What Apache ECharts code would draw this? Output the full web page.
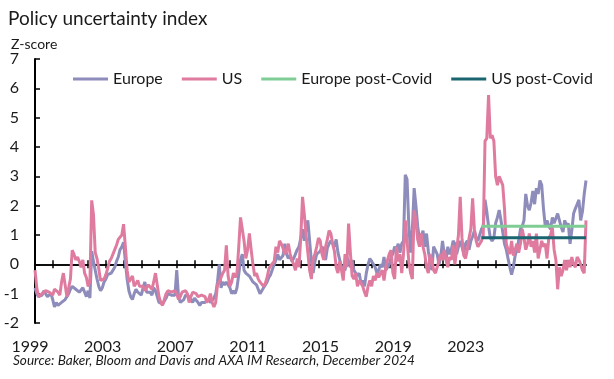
<!DOCTYPE html>
<html>
<head>
<meta charset="utf-8">
<script src="https://cdn.jsdelivr.net/npm/echarts@6/dist/echarts.min.js"></script>
<style>
html,body{margin:0;padding:0;background:#fff;}
#chart{width:614px;height:379px;}
</style>
</head>
<body>
<div id="chart"></div>
<script>
// Monthly categories Jan 1999 - Dec 2024
const startYear = 1999, endYear = 2024;
const months = [];
for (let y = startYear; y <= endYear; y++) {
  for (let m = 1; m <= 12; m++) months.push(y + '-' + (m < 10 ? '0' + m : m));
}
// x-axis tick labels (as printed on the original chart)
const tickLabels = ['1999', '2003', '2007', '2011', '2015', '2019', '2023'];
const labelEvery = 41;

const europe = [
  -0.8,-1.0,-1.1,-1.15,-1.05,-0.9,-1.0,-1.1,-1.05,-1.0,-1.2,-1.45,
  -1.3,-1.4,-1.35,-1.3,-1.25,-1.2,-1.1,-1.0,-0.85,-0.75,-0.8,-0.85,
  -0.85,-0.95,-1.0,-0.8,-0.85,-1.1,-0.9,-1.15,0.45,0.1,-0.2,-0.5,
  -0.75,-0.9,-0.8,-0.6,-0.5,-0.35,-0.4,-0.3,-0.2,-0.1,0.1,0.25,
  0.5,0.6,0.75,0.1,-0.5,-0.9,-1.1,-1.2,-1.0,-0.85,-0.95,-1.0,
  -1.05,-0.8,-0.6,-0.95,-0.9,-0.95,-1.05,-0.8,-0.9,-1.1,-1.3,-1.35,
  -1.35,-1.3,-1.15,-1.0,-0.95,-1.05,-1.0,-1.05,-0.2,-1.1,-1.3,-1.35,
  -1.2,-1.05,-1.0,-1.1,-1.15,-1.3,-1.15,-1.2,-1.3,-1.4,-1.3,-1.3,
  -1.3,-1.25,-1.2,-1.3,-1.25,-1.15,-1.0,-0.6,0.0,-0.8,-0.6,-0.7,
  -0.6,-0.55,-0.8,-1.0,-0.9,-1.0,-0.8,-0.35,0.15,0.35,-0.2,-0.3,
  -0.3,-0.4,-0.5,-0.6,-0.6,-0.7,-0.85,-1.0,-0.95,-0.8,-0.7,-0.6,
  -0.45,-0.35,-0.3,0.0,0.15,0.35,0.15,0.1,0.3,0.7,0.35,0.2,
  0.3,0.1,0.2,0.35,0.5,0.6,0.9,1.2,0.8,1.2,1.5,0.8,
  0.1,-0.3,0.1,0.35,0.3,0.45,0.6,0.5,0.15,0.55,0.7,0.8,
  0.7,0.6,0.85,0.4,0.15,-0.1,-0.1,-0.2,0.25,0.1,-0.1,0.15,
  -0.2,-0.3,-0.4,-0.3,-0.65,-0.55,-0.75,-0.3,0.0,0.2,0.15,0.0,
  -0.1,-0.3,-0.2,0.0,-0.1,0.25,-0.2,-0.1,0.0,0.25,0.36,0.6,
  0.5,0.7,0.4,0.7,0.8,3.05,2.9,1.3,0.4,1.2,2.6,2.0,
  1.3,0.85,0.95,1.15,0.6,1.05,0.45,0.1,-0.2,0.6,0.65,0.35,
  0.0,0.25,0.8,0.35,0.15,0.6,0.35,0.5,0.8,0.7,0.35,0.6,
  0.8,0.6,0.35,0.7,0.8,0.5,0.8,0.95,1.15,0.9,0.8,1.0,
  1.2,1.3,2.2,1.8,1.3,0.9,0.8,0.9,1.4,1.6,1.85,1.5,
  1.1,0.7,0.5,0.2,-0.1,-0.35,-0.1,0.3,0.5,0.8,1.2,1.3,
  1.5,2.4,2.0,1.85,2.1,2.5,2.05,2.6,2.4,2.86,2.7,1.9,
  1.3,1.5,1.3,1.2,1.6,1.4,1.4,1.73,1.5,1.27,1.1,1.5,
  1.3,1.4,0.7,1.16,1.73,1.9,2.05,2.2,1.5,1.8,2.4,2.86
];
const us = [
  -0.2,-0.8,-1.1,-1.05,-1.0,-1.05,-0.9,-0.85,-0.95,-1.0,-1.05,-0.85,
  -0.8,-0.95,-1.05,-0.6,-0.3,-0.7,-1.1,-1.15,-0.5,0.48,0.35,0.15,
  0.25,0.1,-0.1,0.15,-0.3,-0.45,-0.75,-0.6,2.18,1.7,0.4,0.2,
  -0.15,-0.55,-0.5,-0.5,-0.35,-0.15,0.1,0.2,0.35,0.5,0.65,0.85,
  0.9,1.0,1.37,0.6,-0.2,-0.6,-0.55,-0.4,-0.75,-0.7,-0.55,-0.75,
  -0.8,-0.75,-0.9,-0.8,-0.7,-0.75,-0.85,-0.6,-0.3,-0.7,-1.1,-1.3,
  -1.4,-1.2,-1.0,-0.9,-0.85,-0.95,-0.9,-0.9,-1.0,-1.2,-1.1,-0.95,
  -0.95,-0.9,-1.0,-1.3,-1.1,-0.95,-0.9,-1.0,-1.1,-1.15,-1.05,-1.1,
  -1.1,-1.3,-1.2,-1.0,-1.3,-1.45,-1.3,-0.7,-0.6,-0.45,-0.3,-0.2,
  0.65,-0.4,-0.75,-0.6,-0.3,-0.45,-0.3,0.6,1.6,1.55,0.8,0.2,
  0.5,1.05,0.5,0.0,-0.4,-0.3,-0.5,-0.6,-0.55,-0.75,-0.65,-0.45,
  -0.15,-0.05,0.0,0.1,0.6,0.4,0.8,0.7,0.55,0.35,0.5,0.7,
  0.35,0.15,0.0,-0.2,0.2,-0.1,0.9,2.3,1.7,1.0,0.4,-0.2,
  -0.5,0.2,0.35,0.6,0.9,0.8,0.35,0.15,0.6,0.85,1.15,1.05,
  0.7,0.45,-0.1,-0.3,0.1,-0.2,-0.55,0.35,-0.1,1.39,0.4,-0.4,
  -0.5,-0.3,-0.75,-0.55,-0.65,-0.75,-0.95,-1.1,-0.75,-0.55,-0.75,-0.4,
  -0.55,-0.3,-0.45,-0.3,-0.2,-0.55,-0.1,0.15,0.36,0.48,-0.3,-0.5,
  0.6,0.1,0.35,-0.3,0.36,1.5,0.8,0.1,-0.3,-0.5,1.84,1.5,
  0.85,0.6,1.05,0.6,0.35,-0.1,-0.3,0.35,0.15,-0.2,-0.3,-0.1,
  -0.1,0.35,0.15,0.5,0.15,-0.1,0.25,0.15,0.65,0.0,0.5,1.0,
  2.3,0.9,0.3,0.2,0.5,0.9,1.2,2.25,1.2,0.8,0.6,0.6,
  0.8,1.0,4.2,4.3,5.77,4.3,4.4,4.2,3.0,2.7,3.0,3.0,
  2.7,1.9,0.7,0.5,0.35,0.8,0.3,0.5,0.7,0.4,0.7,1.2,
  0.9,0.5,0.7,1.05,0.6,0.8,0.4,1.05,0.2,0.5,0.8,0.6,
  0.7,0.2,0.9,1.0,1.27,0.5,0.15,-0.85,-0.1,-0.4,-0.2,0.15,
  -0.2,0.15,-0.1,0.25,0.0,-0.1,0.25,0.15,0.0,-0.2,-0.3,1.5
];
// Post-Covid averages (from Jan 2020)
const postCovidStart = '2020-01';
const europePostCovid = 1.3;
const usPostCovid = 0.91;

const startIdx = months.indexOf(postCovidStart);
const euPC = months.map((_, i) => i >= startIdx ? europePostCovid : null);
const usPC = months.map((_, i) => i >= startIdx ? usPostCovid : null);

const FONT = 'Lato';
const TXT = '#1a1a1a';
const chart = echarts.init(document.getElementById('chart'), null, {renderer: 'canvas'});
chart.setOption({
  animation: false,
  backgroundColor: '#fff',
  textStyle: {fontFamily: FONT},
  title: [
    {text: 'Policy uncertainty index', left: 3, top: 4,
     textStyle: {fontFamily: FONT, fontSize: 19, fontWeight: 'normal', color: TXT}},
    {text: 'Z-score', left: 6, top: 32,
     textStyle: {fontFamily: FONT, fontSize: 14, fontWeight: 'normal', color: TXT}},
    {text: 'Source: Baker, Bloom and Davis and AXA IM Research, December 2024', left: 8, top: 349,
     textStyle: {fontFamily: FONT, fontSize: 13.6, fontWeight: 'normal', fontStyle: 'italic', color: TXT}}
  ],
  legend: {
    left: 68, top: 66, itemWidth: 35, itemHeight: 3, itemGap: 19, icon: 'rect',
    textStyle: {fontFamily: FONT, fontSize: 16, color: TXT},
    data: ['Europe', 'US', 'Europe post-Covid', 'US post-Covid']
  },
  grid: {left: 35, right: 28, top: 59, bottom: 56, containLabel: false, outerBoundsMode: 'none'},
  xAxis: [
    {type: 'category', data: months, boundaryGap: false, position: 'bottom',
     axisLine: {onZero: true, lineStyle: {color: '#000', width: 1.5}},
     axisTick: {show: true, interval: 9, length: 4, lineStyle: {color: '#000', width: 1.5}},
     axisLabel: {
       interval: (i) => i % labelEvery === 0,
       formatter: (v, i) => tickLabels[Math.round(i / labelEvery)] || '',
       margin: 16, fontFamily: FONT, fontSize: 16, color: TXT, padding: [0, 10, 0, 0]
     },
     splitLine: {show: false}},
    {type: 'category', data: months, boundaryGap: false, position: 'top',
     axisLine: {onZero: true, onZeroAxisIndex: 1, lineStyle: {color: '#000', width: 1.5}},
     axisTick: {show: true, interval: 9, length: 4, lineStyle: {color: '#000', width: 1.5}},
     axisLabel: {show: false}, splitLine: {show: false}}
  ],
  yAxis: [
    {type: 'value', min: -2, max: 7, interval: 1,
     axisLine: {show: true, lineStyle: {color: '#000', width: 2}},
     axisTick: {show: true, inside: true, length: 5, lineStyle: {color: '#000', width: 1.5}},
     axisLabel: {fontFamily: FONT, fontSize: 16, color: TXT, margin: 16},
     splitLine: {show: false}},
    {type: 'value', min: -2, max: 7, interval: 1, position: 'right',
     axisLine: {show: false}, axisTick: {show: false}, axisLabel: {show: false}, splitLine: {show: false}}
  ],
  series: [
    {name: 'Europe', type: 'line', data: europe, symbol: 'none', xAxisIndex: 0, yAxisIndex: 0,
     lineStyle: {color: '#8d8cbb', width: 3}, itemStyle: {color: '#8d8cbb'}, z: 2},
    {name: 'US', type: 'line', data: us, symbol: 'none', xAxisIndex: 0, yAxisIndex: 0,
     lineStyle: {color: '#e07ba0', width: 3}, itemStyle: {color: '#e07ba0'}, z: 3},
    {name: 'Europe post-Covid', type: 'line', data: euPC, symbol: 'none', xAxisIndex: 0, yAxisIndex: 0,
     lineStyle: {color: '#7fcd95', width: 3}, itemStyle: {color: '#7fcd95'}, z: 4},
    {name: 'US post-Covid', type: 'line', data: usPC, symbol: 'none', xAxisIndex: 0, yAxisIndex: 0,
     lineStyle: {color: '#1b6570', width: 3}, itemStyle: {color: '#1b6570'}, z: 5}
  ]
});
</script>
</body>
</html>
